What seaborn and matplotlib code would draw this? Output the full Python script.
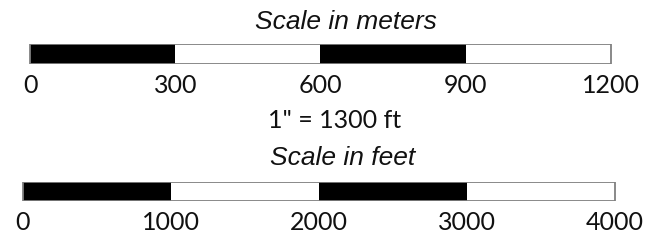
import matplotlib
matplotlib.use("Agg")
import matplotlib.pyplot as plt
import seaborn as sns

# scale bar data
meter_ticks = [0, 300, 600, 900, 1200]
feet_ticks = [0, 1000, 2000, 3000, 4000]
segment_colors = ["black", "white", "black", "white"]
title_m = "Scale in meters"
title_ft = "Scale in feet"
ratio_text = '1" = 1300 ft'

sns.set_theme(style="white")
plt.rcParams['font.family'] = ['Lato', 'DejaVu Sans']


def draw_scale(ax, ticks, xlim):
    # draw from the longest segment down so each shorter one overlaps it
    ends = ticks[1:]
    for i in range(len(ends) - 1, -1, -1):
        sns.barplot(x=[ends[i]], y=[0], orient="h", color=segment_colors[i],
                    saturation=1, width=1, ax=ax, linewidth=0)
    # grey outline around the whole bar, on top
    sns.barplot(x=[ends[-1]], y=[0], orient="h", fill=False, width=1, ax=ax,
                edgecolor="#808080", linewidth=1.3)
    ax.set_xlim(*xlim)
    ax.set_ylim(0.5, -0.5)
    ax.set_xticks(ticks)
    ax.set_xticklabels([str(t) for t in ticks], fontsize=18, color="#111111")
    ax.set_yticks([])
    ax.set_ylabel("")
    ax.tick_params(axis="x", length=0, pad=7)
    for s in ax.spines.values():
        s.set_visible(False)
    ax.patch.set_alpha(0)


fig = plt.figure(figsize=(6.7, 2.44), dpi=100)
ax1 = fig.add_axes([0, (244 - 64) / 244, 1, 20 / 244])
ax2 = fig.add_axes([0, (244 - 201) / 244, 1, 19 / 244])

draw_scale(ax1, meter_ticks, (-62, 1322))
draw_scale(ax2, feet_ticks, (-155, 4372))

fig.text(346 / 670, 1 - 22 / 244, title_m, ha="center", va="center",
         fontsize=19, style="italic", family=["Liberation Sans"], color="#111111")
fig.text(335 / 670, 1 - 120 / 244, ratio_text, ha="center", va="center",
         fontsize=18, color="#111111")
fig.text(343 / 670, 1 - 158 / 244, title_ft, ha="center", va="center",
         fontsize=19, style="italic", family=["Liberation Sans"], color="#111111")

fig.savefig("out.png", dpi=100, facecolor="white")
